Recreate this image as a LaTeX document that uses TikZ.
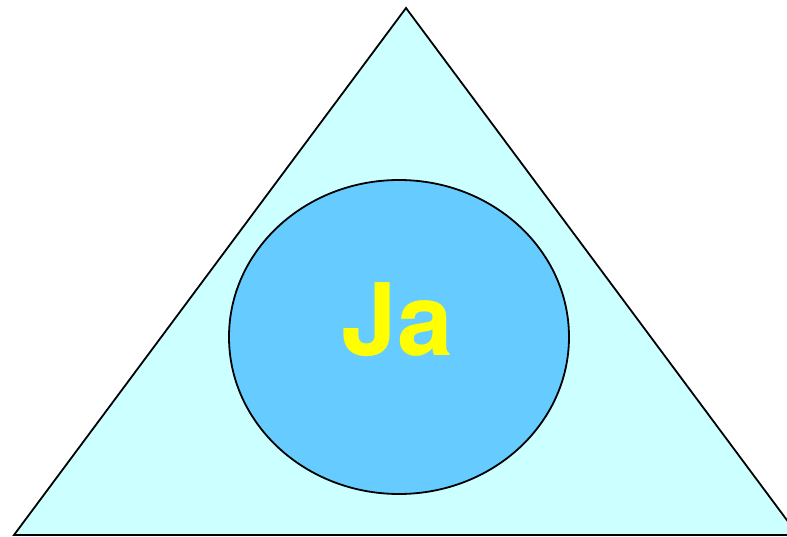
\documentclass[tikz,border=0pt]{standalone}
\usepackage{fontspec}
\setmainfont{Liberation Sans}
\newfontfamily\signfont{TeX Gyre Heros}
\usepackage{xcolor}
\usepackage{tikz}
\usetikzlibrary{shapes.geometric}
\definecolor{paleCyan}{HTML}{CCFFFF}
\definecolor{skyBlue}{HTML}{66CCFF}
\definecolor{signYellow}{HTML}{FFFF00}

\begin{document}
\begin{tikzpicture}[
  x=1pt, y=-1pt,
  tri/.style={draw, line width=1.8pt, fill=paleCyan, line join=miter},
  core/.style={draw, ellipse, line width=1.8pt, fill=skyBlue, minimum width=340pt, minimum height=314pt, inner sep=0pt},
  word/.style={font=\signfont\bfseries\fontsize{100}{100}\selectfont, text=signYellow, inner sep=0pt}]
  \useasboundingbox (0,0) rectangle (787,537);
  % outer triangle
  \coordinate (apex) at (406,8);
  \coordinate (bl) at (14,535);
  \coordinate (br) at (798,535);
  \draw[tri] (apex) -- (br) -- (bl) -- cycle;
  % inner ellipse with label
  \node[core] (circ) at (399,337) {};
  \node[word] (ja) at (397,320) {Ja};
\end{tikzpicture}
\end{document}
